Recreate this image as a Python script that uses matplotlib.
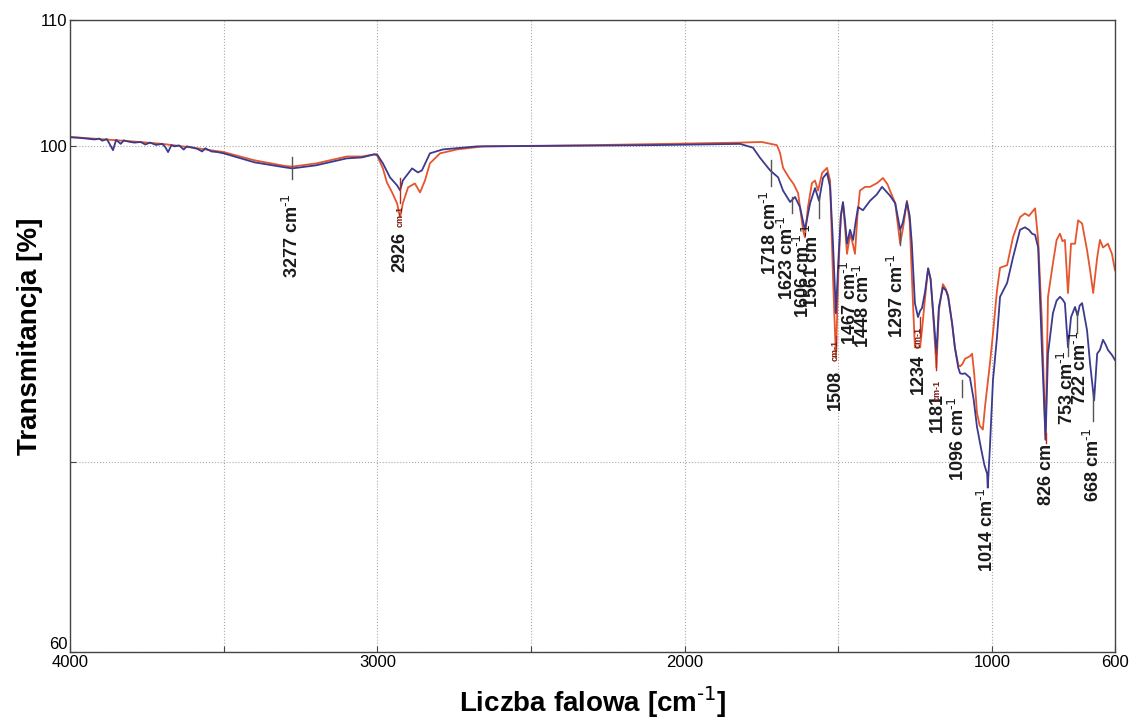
import numpy as np
import matplotlib
matplotlib.use("Agg")
import matplotlib.pyplot as plt

plt.rcParams['font.family'] = ['Liberation Sans', 'DejaVu Sans']
plt.rcParams['mathtext.default'] = 'regular'

# spectrum 1 (blue)
blue_wn = [4000, 3970, 3940, 3920, 3905, 3895, 3880, 3860, 3850, 3835, 3825, 3810, 3790,
           3770, 3755, 3740, 3720, 3700, 3690, 3681, 3670, 3660, 3645, 3630, 3620, 3600,
           3585, 3570, 3560, 3540, 3520, 3500, 3400, 3300, 3277, 3200, 3100, 3050, 3010,
           3001, 2982, 2959, 2936, 2926, 2917, 2887, 2868, 2855, 2829, 2787, 2676, 2400,
           2100, 1820, 1778, 1755, 1722, 1696, 1680, 1657, 1641, 1625, 1609, 1592, 1576,
           1563, 1550, 1537, 1527, 1518, 1508, 1500, 1492, 1485, 1478, 1472, 1462, 1452,
           1444, 1436, 1420, 1397, 1375, 1358, 1332, 1315, 1299, 1290, 1277, 1268, 1261,
           1251, 1241, 1234, 1228, 1218, 1208, 1200, 1192, 1181, 1173, 1160, 1150, 1143,
           1130, 1121, 1110, 1104, 1096, 1088, 1072, 1060, 1049, 1035, 1025, 1016, 1014,
           1007, 997, 984, 974, 951, 932, 909, 893, 880, 870, 860, 850, 838, 826, 818,
           802, 790, 779, 771, 763, 753, 743, 730, 722, 715, 707, 691, 681, 668, 658, 649,
           639, 630, 623, 610, 600]
blue_t = [100.72, 100.68, 100.6, 100.55, 100.62, 100.45, 100.58, 99.7, 100.52, 100.2,
          100.48, 100.38, 100.3, 100.35, 100.15, 100.3, 100.12, 100.2, 99.95, 99.55, 100.1,
          100.0, 100.08, 99.75, 100.0, 99.9, 99.8, 99.6, 99.85, 99.6, 99.55, 99.45, 98.74,
          98.34, 98.26, 98.5, 99.05, 99.13, 99.37, 99.37, 98.66, 97.55, 96.92, 96.52,
          97.31, 98.26, 97.94, 98.1, 99.45, 99.76, 100.0, 100.05, 100.1, 100.2, 99.9, 99.1,
          98.1, 97.55, 96.5, 95.6, 96.0, 95.2, 93.4, 95.5, 96.7, 95.7, 97.5, 97.9, 96.8,
          92.6, 86.8, 91.0, 94.5, 95.6, 94.0, 92.3, 93.4, 92.6, 94.0, 95.2, 94.95, 95.7,
          96.2, 96.8, 96.1, 95.5, 93.4, 94.0, 95.6, 94.5, 92.3, 87.6, 86.5, 87.0, 87.2,
          88.5, 90.35, 89.5, 87.0, 83.6, 87.3, 88.85, 88.6, 88.1, 86.0, 84.1, 82.5, 82.05,
          82.0, 82.05, 81.7, 80.0, 77.8, 76.0, 74.8, 74.1, 73.0, 76.2, 81.5, 84.9, 88.1,
          89.2, 91.2, 93.4, 93.6, 93.4, 93.1, 93.0, 92.0, 84.1, 76.8, 83.6, 86.8, 87.8,
          88.1, 87.9, 87.6, 84.1, 86.5, 87.3, 86.6, 87.4, 87.6, 85.45, 82.8, 79.9, 83.6,
          83.9, 84.7, 84.3, 83.9, 83.5, 83.1]

# spectrum 2 (red)
red_wn = [4000, 3800, 3700, 3600, 3500, 3400, 3300, 3277, 3200, 3100, 3050, 3010, 3001,
          2982, 2969, 2952, 2936, 2926, 2917, 2900, 2878, 2861, 2845, 2829, 2796, 2741,
          2656, 2300, 1820, 1750, 1700, 1690, 1680, 1660, 1645, 1631, 1615, 1609, 1599,
          1586, 1576, 1566, 1553, 1537, 1527, 1518, 1508, 1500, 1492, 1485, 1478, 1472,
          1462, 1456, 1446, 1438, 1430, 1413, 1397, 1374, 1355, 1340, 1332, 1315, 1299,
          1290, 1277, 1268, 1258, 1251, 1234, 1228, 1218, 1208, 1200, 1192, 1181, 1173,
          1160, 1150, 1143, 1130, 1121, 1110, 1104, 1096, 1088, 1072, 1065, 1058, 1049,
          1040, 1030, 1023, 1007, 997, 984, 974, 951, 932, 909, 893, 880, 870, 860, 850,
          838, 826, 818, 802, 790, 779, 771, 763, 753, 743, 730, 720, 707, 691, 681, 671,
          658, 649, 639, 623, 610, 600]
red_t = [100.75, 100.4, 100.2, 99.9, 99.55, 98.9, 98.45, 98.4, 98.65, 99.2, 99.2, 99.37,
         99.29, 98.26, 97.15, 96.36, 95.5, 94.39, 95.5, 96.76, 97.07, 96.36, 97.31, 98.66,
         99.45, 99.76, 100.0, 100.1, 100.3, 100.35, 100.1, 99.5, 98.3, 97.5, 97.0, 96.3,
         93.4, 92.8, 95.2, 97.1, 97.3, 96.5, 97.9, 98.3, 97.3, 89.95, 83.3, 90.0, 94.5,
         95.5, 93.5, 91.5, 93.0, 92.6, 91.5, 94.5, 96.5, 96.8, 96.8, 97.1, 97.5, 97.0,
         96.5, 95.5, 92.3, 93.5, 95.7, 94.0, 88.0, 84.1, 84.1, 85.5, 88.0, 90.35, 89.5,
         86.8, 82.5, 87.0, 89.1, 88.7, 88.2, 86.0, 84.1, 82.7, 82.6, 82.8, 83.2, 83.4,
         83.6, 82.0, 78.9, 77.9, 77.6, 79.4, 82.8, 85.2, 88.6, 90.4, 90.6, 92.8, 94.4,
         94.7, 94.5, 94.8, 95.1, 92.6, 86.25, 76.8, 88.1, 90.75, 92.6, 93.1, 92.5, 92.6,
         88.4, 92.3, 92.3, 94.15, 93.9, 91.8, 90.2, 88.4, 91.2, 92.6, 92.0, 92.3, 91.5,
         90.2]

# peak labels
SUP = r' cm$^{\text{-1}}$'
lab_text = ['3277' + SUP, '2926', '1718' + SUP, '1623' + SUP, '1606' + SUP,
            '1561' + SUP, '1508', '1467' + SUP, '1448' + SUP, '1297' + SUP,
            '1234', '1181', '1096' + SUP, '1014' + SUP, '826 cm', '753' + SUP,
            '722' + SUP, '668' + SUP]
lab_x = [3277, 2926, 1722, 1667, 1615, 1586, 1511, 1462, 1420, 1309, 1241, 1179, 1111,
         1016, 822, 756, 714, 672]
lab_top = [96.3, 93.2, 96.5, 94.55, 93.1, 93.9, 82.3, 91.0, 90.75, 91.5, 83.6, 80.5,
           80.2, 73.0, 76.5, 83.9, 85.45, 77.8]

# small "cm-1" under some labels
small_x = [2926, 1511, 1241, 1179]
small_top = [95.3, 84.66, 85.7, 81.5]

# marker lines at peaks
mark_x = [3277, 2926, 1719, 1651, 1563, 1508, 1299, 1234, 1181, 1098, 826, 753, 724, 672]
mark_top = [99.13, 97.5, 98.9, 96.0, 96.0, 85.0, 93.4, 86.5, 83.9, 81.5, 77.3, 84.7, 87.0, 80.5]
mark_bot = [97.45, 95.5, 96.9, 94.7, 94.3, 83.9, 92.2, 84.9, 82.3, 80.2, 76.5, 83.4, 85.2, 78.3]
mark_red = [False, True, False, False, False, True, False, True, True, False, True, False,
            False, False]

fig = plt.figure(figsize=(11.37, 7.22), dpi=100)
ax = fig.add_axes([70 / 1137, 1 - 652 / 722, 1045 / 1137, 632 / 722])

ax.plot(red_wn, red_t, color='#E5552E', lw=1.3)
ax.plot(blue_wn, blue_t, color='#3B3A8E', lw=1.3)

for x, t1, t2, r in zip(mark_x, mark_top, mark_bot, mark_red):
    ax.plot([x, x], [t1, t2], color='#B03020' if r else '#555555', lw=1.0)

for s, x, t in zip(lab_text, lab_x, lab_top):
    ax.text(x, t, s, rotation=90, ha='center', va='top', fontsize=13,
            fontweight='bold', color='#1a1a1a')
for x, t in zip(small_x, small_top):
    ax.text(x, t, 'cm-1', rotation=90, ha='center', va='top', fontsize=6.5,
            fontweight='bold', color='#7a1a10')

ax.set_xlim(4000, 600)
ax.set_ylim(60, 110)
ax.set_xticks([4000, 3500, 3000, 2500, 2000, 1500, 1000, 600])
ax.set_xticklabels(['4000', '', '3000', '', '2000', '', '1000', '600'])
ax.set_yticks([60, 75, 100, 110])
ax.set_yticklabels(['60', '', '100', '110'])
ax.tick_params(direction='in', length=4, labelsize=12, pad=2, color='#444444')
ax.get_yticklabels()[0].set_verticalalignment('bottom')
ax.grid(True, linestyle=':', color='#aaaaaa', lw=0.8)
for sp in ax.spines.values():
    sp.set_color('#444444')
    sp.set_linewidth(1.0)

ax.set_xlabel(r'Liczba falowa [cm$^{\text{-1}}$]', fontsize=20, fontweight='bold')
ax.set_ylabel('Transmitancja [%]', fontsize=20, fontweight='bold')
ax.yaxis.set_label_coords(-0.026, 0.5)
ax.xaxis.set_label_coords(0.5, -0.052)

fig.savefig('out.png', dpi=100)
